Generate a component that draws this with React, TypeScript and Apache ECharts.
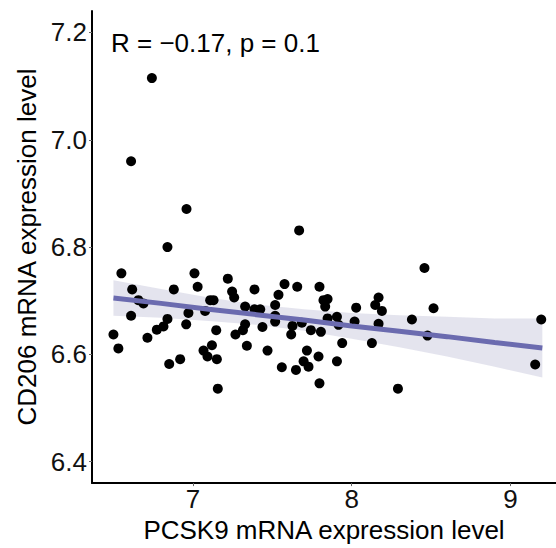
import React, { useEffect, useRef } from "react";
import * as echarts from "echarts";

// PCSK9 (x) and CD206 (y) expression levels
const pcsk9 = [
  6.742, 6.611, 6.96, 7.669, 6.84, 6.55, 7.01, 7.22, 6.618, 6.88,
  7.03, 7.388, 7.577, 7.657, 7.797, 7.247, 7.26, 7.539, 6.657, 6.689,
  7.109, 7.13, 7.822, 7.848, 7.833, 7.518, 7.329, 7.388, 7.424, 6.611,
  6.84, 6.972, 7.077, 7.518, 7.848, 7.907, 6.958, 7.329, 7.438, 7.627,
  7.686, 6.815, 6.773, 6.5, 7.147, 7.315, 7.743, 7.806, 7.268, 7.619,
  6.714, 6.531, 7.34, 7.12, 7.067, 7.092, 7.151, 6.92, 6.851, 7.47,
  7.718, 7.791, 7.697, 7.728, 7.56, 7.649, 7.907, 7.797, 7.157, 7.94,
  7.917, 8.028, 8.018, 8.169, 8.148, 8.19, 8.169, 8.127, 8.458, 8.515,
  8.379, 8.477, 8.291, 9.193, 9.155, 7.518,
];
const cd206 = [
  7.115, 6.96, 6.871, 6.831, 6.8, 6.751, 6.751, 6.741, 6.721, 6.721,
  6.726, 6.721, 6.731, 6.726, 6.726, 6.717, 6.706, 6.711, 6.701, 6.695,
  6.701, 6.701, 6.701, 6.703, 6.689, 6.692, 6.689, 6.684, 6.684, 6.672,
  6.666, 6.677, 6.681, 6.661, 6.667, 6.67, 6.656, 6.656, 6.651, 6.653,
  6.659, 6.652, 6.646, 6.637, 6.645, 6.645, 6.645, 6.642, 6.637, 6.637,
  6.631, 6.611, 6.616, 6.617, 6.607, 6.596, 6.591, 6.591, 6.582, 6.607,
  6.607, 6.596, 6.587, 6.577, 6.576, 6.571, 6.587, 6.546, 6.536, 6.621,
  6.655, 6.687, 6.661, 6.706, 6.692, 6.681, 6.657, 6.621, 6.761, 6.686,
  6.665, 6.635, 6.536, 6.665, 6.581, 6.672,
];

// Fitted regression line and its confidence band
const fitX = [6.5, 6.8, 7.1, 7.4, 7.7, 8.0, 8.3, 8.6, 8.9, 9.2];
const fitY = [6.705, 6.695, 6.684, 6.674, 6.664, 6.653, 6.643, 6.633, 6.622, 6.612];
const bandLower = [6.672, 6.668, 6.662, 6.655, 6.644, 6.629, 6.613, 6.596, 6.577, 6.557];
const bandUpper = [6.738, 6.722, 6.706, 6.693, 6.684, 6.677, 6.673, 6.67, 6.667, 6.667];

const xTicks = [7, 8, 9];
const yTicks = [6.4, 6.6, 6.8, 7.0, 7.2];
const xTitle = "PCSK9 mRNA expression level";
const yTitle = "CD206 mRNA expression level";
const annotation = "R = \u22120.17, p = 0.1";

export default function App() {
  const ref = useRef<HTMLDivElement>(null);

  useEffect(() => {
    document.body.style.margin = "0";
    const chart = echarts.init(ref.current as HTMLDivElement, null, { renderer: "svg" });
    const font = "'Liberation Sans', Arial, Helvetica, sans-serif";
    const points = pcsk9.map((x, i) => [x, cd206[i]]);
    const line = fitX.map((x, i) => [x, fitY[i]]);
    const bandData = fitX.map((x, i) => [x, bandLower[i]]);

    chart.setOption({
      animation: false,
      grid: { left: 92, right: 0, top: 11, bottom: 57, containLabel: false },
      xAxis: {
        type: "value",
        min: 6.365,
        max: 9.286,
        axisLine: { show: true, lineStyle: { color: "#000", width: 2 } },
        axisTick: { show: true, customValues: xTicks, length: 3, lineStyle: { color: "#666", width: 1 } },
        axisLabel: {
          customValues: xTicks,
          fontSize: 26,
          color: "#111",
          fontFamily: font,
          margin: 3,
          formatter: (v: number) => String(v),
        },
        splitLine: { show: false },
        name: xTitle,
        nameLocation: "middle",
        nameGap: 27,
        nameTextStyle: { fontSize: 26, color: "#000", fontFamily: font },
      },
      yAxis: {
        type: "value",
        min: 6.36,
        max: 7.24,
        axisLine: { show: true, lineStyle: { color: "#000", width: 2 } },
        axisTick: { show: true, customValues: yTicks, length: 3, lineStyle: { color: "#666", width: 1 } },
        axisLabel: {
          customValues: yTicks,
          fontSize: 26,
          color: "#111",
          fontFamily: font,
          margin: 5,
          formatter: (v: number) => v.toFixed(1),
        },
        splitLine: { show: false },
        name: yTitle,
        nameLocation: "middle",
        nameGap: 50,
        nameTextStyle: { fontSize: 26, color: "#000", fontFamily: font },
      },
      graphic: [
        {
          type: "text",
          x: 111,
          y: 43,
          style: {
            text: annotation,
            fontSize: 26,
            fontFamily: font,
            fill: "#000",
            verticalAlign: "middle",
          },
        },
      ],
      series: [
        {
          type: "scatter",
          data: points,
          symbolSize: 10,
          itemStyle: { color: "#000", opacity: 1 },
          silent: true,
        },
        {
          type: "custom",
          data: bandData,
          silent: true,
          renderItem: (params: any, api: any) => {
            if (params.dataIndex !== 0) return null;
            const pts: number[][] = [];
            for (let i = 0; i < fitX.length; i++) pts.push(api.coord([fitX[i], bandUpper[i]]));
            for (let i = fitX.length - 1; i >= 0; i--) pts.push(api.coord([fitX[i], bandLower[i]]));
            return {
              type: "polygon",
              shape: { points: pts },
              style: { fill: "rgba(187,187,212,0.4)" },
            };
          },
        },
        {
          type: "line",
          data: line,
          showSymbol: false,
          symbol: "none",
          lineStyle: { color: "#6B6BAF", width: 5 },
          silent: true,
        },
      ],
    });
    return () => chart.dispose();
  }, []);

  return <div ref={ref} style={{ width: 556, height: 548 }} />;
}
